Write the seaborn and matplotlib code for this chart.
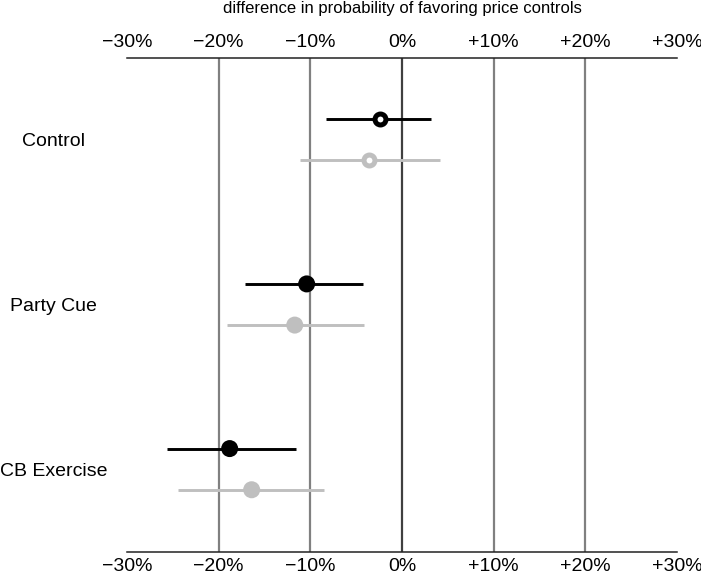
import numpy as np
import pandas as pd
import seaborn as sns
from matplotlib import pyplot as plt

categories = ["Control", "Party Cue", "CB Exercise"]
groups = ["group 1", "group 2"]

# point estimates and 95% intervals, in percentage points
est_g1 = [-2.45, -10.4, -18.8]
lo_g1 = [-8.25, -17.1, -25.6]
hi_g1 = [3.2, -4.3, -11.6]

est_g2 = [-3.65, -11.7, -16.4]
lo_g2 = [-11.1, -19.1, -24.4]
hi_g2 = [4.1, -4.2, -8.5]

xticks = [-30, -20, -10, 0, 10, 20, 30]
xticklabels = ["\u221230%", "\u221220%", "\u221210%", "0%", "+10%", "+20%", "+30%"]

colors = {"group 1": "#000000", "group 2": "#bfbfbf"}
offsets = {"group 1": -0.125, "group 2": 0.125}

rows = []
for g, est, lo, hi in [("group 1", est_g1, lo_g1, hi_g1),
                       ("group 2", est_g2, lo_g2, hi_g2)]:
    for i, cat in enumerate(categories):
        rows.append({"category": cat, "group": g, "est": est[i],
                     "lo": lo[i], "hi": hi[i],
                     "y": i + offsets[g]})
df = pd.DataFrame(rows)

sns.set_style("white")
plt.rcParams['font.family'] = ['Liberation Sans', 'DejaVu Sans']
plt.rcParams['text.color'] = 'black'
plt.rcParams['xtick.color'] = 'black'
plt.rcParams['ytick.color'] = 'black'

fig = plt.figure(figsize=(7.01, 5.77), dpi=100)
ax = fig.add_axes([127 / 701, 25.5 / 577, 550 / 701, 494 / 577])

# reference lines
for x in [-20, -10, 10, 20]:
    ax.axvline(x, color="#808080", lw=1.6, zorder=0)
ax.axvline(0, color="#404040", lw=1.6, zorder=0)

# intervals
for g in groups:
    sub = df[df["group"] == g]
    ax.hlines(sub["y"], sub["lo"], sub["hi"], color=colors[g], lw=2.1, zorder=1)

# filled markers
filled = df[df["category"] != "Control"]
sns.scatterplot(data=filled, x="est", y="y", hue="group", palette=colors,
                s=150, linewidth=0, legend=False, ax=ax, zorder=3)

# hollow markers for control
hollow = df[df["category"] == "Control"]
for g in groups:
    sub = hollow[hollow["group"] == g]
    sns.scatterplot(data=sub, x="est", y="y", s=62, facecolor="white",
                    edgecolor=colors[g], linewidth=3.6, legend=False,
                    ax=ax, zorder=3)

ax.set_xlim(-30, 30)
ax.set_ylim(2.5, -0.5)
ax.set_xticks(xticks)
ax.set_xticklabels(xticklabels)
ax.set_yticks(range(len(categories)))
ax.set_yticklabels(categories)
for lab in ax.get_yticklabels():
    lab.set_horizontalalignment("center")

ax.tick_params(axis="x", which="both", length=0, labelsize=14, pad=5,
               top=True, labeltop=True, bottom=True, labelbottom=True)
ax.tick_params(axis="y", length=0, labelsize=14, pad=53)

for side in ["left", "right"]:
    ax.spines[side].set_visible(False)
for side in ["top", "bottom"]:
    ax.spines[side].set_color("#222222")
    ax.spines[side].set_linewidth(1.1)

ax.set_xlabel("")
ax.set_ylabel("")
fig.text(402 / 701, 1 - 8 / 577, "difference in probability of favoring price controls",
         ha="center", va="center", fontsize=12)

fig.savefig("out.png", dpi=100)
